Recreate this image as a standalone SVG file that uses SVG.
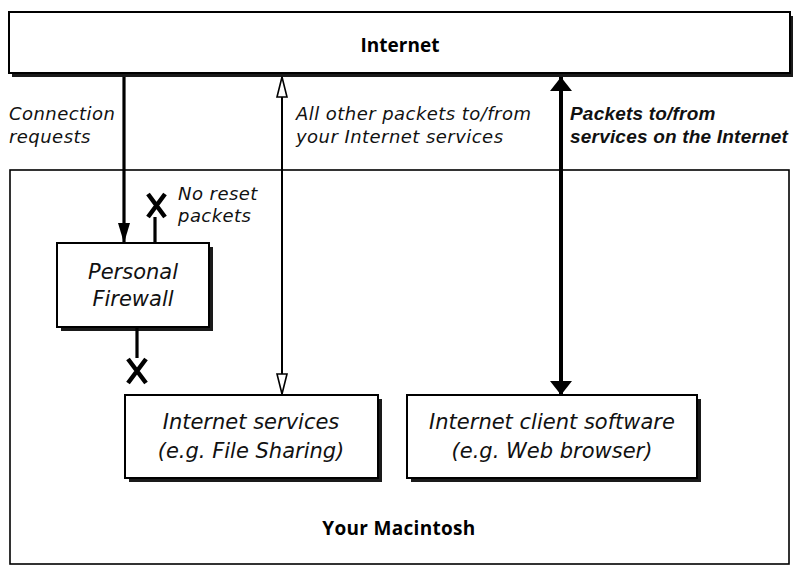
<svg xmlns="http://www.w3.org/2000/svg" width="795" height="566" viewBox="0 0 795 566">
<defs>
<style>
.box{fill:#fff;stroke:#000;stroke-width:2}
.shadow{fill:#1a1a1a}
.lbl{font-family:"DejaVu Sans","Liberation Sans",sans-serif;font-style:italic;font-size:18px;letter-spacing:0.45px;fill:#111}
.lblb{font-family:"Liberation Sans","DejaVu Sans",sans-serif;font-style:italic;font-weight:700;font-size:19px;letter-spacing:0.2px;fill:#111}
.title{font-family:"Open Sans","Liberation Sans",sans-serif;font-weight:700;font-size:19px;fill:#000}
.node{font-family:"DejaVu Sans","Liberation Sans",sans-serif;font-style:italic;font-size:21px;fill:#111}
.line{stroke:#000;fill:none}
.cross{stroke:#000;stroke-width:4.5;stroke-linecap:butt;fill:none}
</style>
<marker id="solidS" viewBox="0 0 14 22" refX="14" refY="11" markerWidth="14" markerHeight="22" markerUnits="userSpaceOnUse" orient="auto-start-reverse">
<path d="M0,0 L14,11 L0,22 Z" fill="#000"/>
</marker>
<marker id="small" viewBox="0 0 20 12" refX="20" refY="6" markerWidth="20" markerHeight="12" markerUnits="userSpaceOnUse" orient="auto">
<path d="M0,0 L20,6 L0,12 Z" fill="#000"/>
</marker>
<marker id="hollow" viewBox="0 0 22 12" refX="21" refY="6" markerWidth="22" markerHeight="12" markerUnits="userSpaceOnUse" orient="auto-start-reverse">
<path d="M1,1 L21,6 L1,11 Z" fill="#fff" stroke="#000" stroke-width="1.6"/>
</marker>
</defs>

<g id="mac">
<rect x="10" y="170" width="779" height="394" fill="#fff" stroke="#000" stroke-width="1.6"/>
<text class="title" x="399" y="535" text-anchor="middle" font-size="21" letter-spacing="0.3">Your Macintosh</text>
</g>

<g id="internet">
<rect class="shadow" x="12" y="16" width="781" height="61"/>
<rect class="box" x="9" y="12" width="781" height="61"/>
<text class="title" x="400" y="52" text-anchor="middle">Internet</text>
</g>

<g id="firewall">
<rect class="shadow" x="61" y="247" width="152" height="84"/>
<rect class="box" x="57" y="243" width="152" height="84"/>
<text class="node" x="133" y="279" text-anchor="middle">Personal</text>
<text class="node" x="133" y="306" text-anchor="middle">Firewall</text>
</g>

<g id="services">
<rect class="shadow" x="129" y="399" width="253" height="83"/>
<rect class="box" x="125" y="395" width="253" height="83"/>
<text class="node" x="251" y="429" text-anchor="middle">Internet services</text>
<text class="node" x="251" y="458" text-anchor="middle">(e.g. File Sharing)</text>
</g>

<g id="client">
<rect class="shadow" x="411" y="399" width="290" height="83"/>
<rect class="box" x="407" y="395" width="290" height="83"/>
<text class="node" x="552" y="429" text-anchor="middle">Internet client software</text>
<text class="node" x="552" y="458" text-anchor="middle">(e.g. Web browser)</text>
</g>

<g id="connectors">
<line class="line" x1="124" y1="77" x2="124" y2="243" stroke-width="3.2" marker-end="url(#small)"/>
<line class="line" x1="155" y1="243" x2="155" y2="217" stroke-width="3.2"/>
<path class="cross" d="M148,194 L165,217 M165,194 L148,217"/>
<line class="line" x1="137" y1="327" x2="137" y2="358" stroke-width="3.2"/>
<path class="cross" d="M128,359 L146,383 M146,359 L128,383"/>
<line class="line" x1="282" y1="77" x2="282" y2="394" stroke-width="2" marker-start="url(#hollow)" marker-end="url(#hollow)"/>
<line class="line" x1="561" y1="77" x2="561" y2="395" stroke-width="4" marker-start="url(#solidS)" marker-end="url(#solidS)"/>
</g>

<g id="labels">
<text class="lbl" x="9" y="120">Connection</text>
<text class="lbl" x="9" y="143">requests</text>
<text class="lbl" x="178" y="200">No reset</text>
<text class="lbl" x="178" y="222">packets</text>
<text class="lbl" x="296" y="120">All other packets to/from</text>
<text class="lbl" x="296" y="143">your Internet services</text>
<text class="lblb" x="570" y="120">Packets to/from</text>
<text class="lblb" x="570" y="143">services on the Internet</text>
</g>
</svg>
